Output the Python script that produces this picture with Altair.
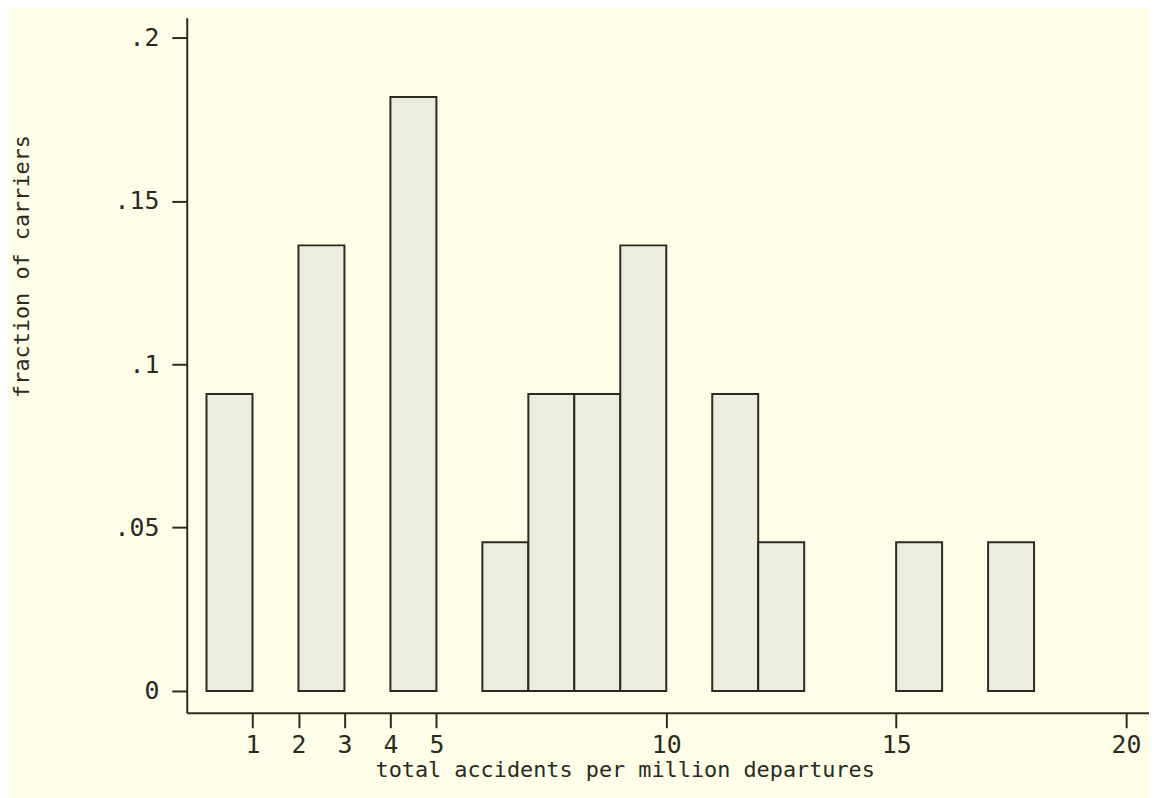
import altair as alt
import pandas as pd

bin_start = [0, 2, 4, 6, 7, 8, 9, 11, 12, 15, 17]
bin_end = [1, 3, 5, 7, 8, 9, 10, 12, 13, 16, 18]
fraction = [0.0909, 0.1364, 0.1818, 0.0455, 0.0909, 0.0909, 0.1364, 0.0909, 0.0455, 0.0455, 0.0455]
x_ticks = [1, 2, 3, 4, 5, 10, 15, 20]
y_ticks = [0, 0.05, 0.1, 0.15, 0.2]

df = pd.DataFrame({"x0": bin_start, "x1": bin_end, "frac": fraction})

FONT = "DejaVu Sans Mono"
INK = "#2a2a22"

bars = alt.Chart(df).mark_rect(
    fill="#ececdf", stroke=INK, strokeWidth=2
).encode(
    x=alt.X("x0:Q",
            scale=alt.Scale(domain=[-0.43, 20.5], nice=False, zero=False),
            axis=alt.Axis(values=x_ticks, title="total accidents per million departures",
                          titleX=441, titleY=47, titleAnchor="start", titleAlign="center",
                          titleBaseline="top", labelFlush=False, labelPadding=5)),
    x2="x1:Q",
    y=alt.Y("frac:Q",
            scale=alt.Scale(domain=[-0.0067, 0.2061], nice=False, zero=False),
            axis=alt.Axis(values=y_ticks, title="fraction of carriers",
                          labelExpr="datum.value == 0 ? '0' : replace(toString(datum.value), '0.', '.')",
                          titleX=-166, titleY=250, titleAlign="center", titleBaseline="middle",
                          titleAngle=270, labelFlush=False, labelPadding=13)),
    y2=alt.datum(0),
)

chart = bars.properties(
    width=969, height=700,
    background="#fdfde8",
    padding={"left": 180, "top": 7, "right": 0, "bottom": 83},
    autosize=alt.AutoSizeParams(type="none"),
).configure_view(stroke=None).configure_axis(
    grid=False,
    domainColor=INK, domainWidth=2,
    tickColor=INK, tickWidth=2, tickSize=15,
    labelFont=FONT, labelFontSize=25, labelColor=INK,
    titleFont=FONT, titleFontSize=22, titleColor=INK, titleFontWeight="normal",
)

chart.save("out.html", embed_options={"renderer": "svg", "actions": False})
